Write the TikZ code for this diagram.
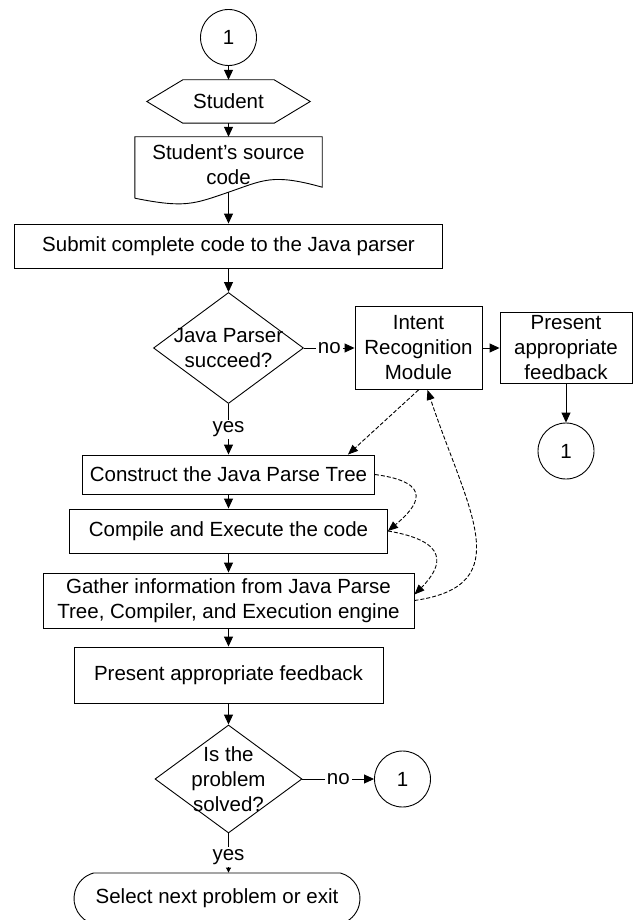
\documentclass[tikz,border=0pt]{standalone}
\usepackage{fontspec}
\setmainfont{Liberation Sans}
\usetikzlibrary{shapes.geometric,shapes.misc,arrows.meta}
\tikzstyle{block}=[
	draw=black,
	shape=rectangle,
	align=center,
	inner sep=2pt,
	line width=0.9pt
]
\tikzstyle{decision}=[draw=black, shape=diamond, align=center, inner sep=-20pt, line width=0.9pt]
\tikzstyle{conn}=[draw=black, shape=circle, minimum size=56pt, inner sep=0pt, line width=0.9pt]
\tikzstyle{outline}=[draw=none, align=center, inner sep=0pt]
\tikzstyle{lbl}=[fill=white, inner sep=2pt]
\tikzstyle{flow}=[line width=0.9pt, -{Triangle[length=10pt,width=9pt]}]
\tikzstyle{smallflow}=[line width=0.9pt, -{Triangle[length=5pt,width=5pt]}]
\tikzstyle{dflow}=[line width=0.9pt, dash pattern=on 4pt off 2pt, -{Triangle[length=10pt,width=8pt]}]

\begin{document}
\begin{tikzpicture}[x=1pt, y=-1pt, every node/.style={font=\fontsize{20.5}{25}\selectfont}]
	\useasboundingbox (0,0) rectangle (634,920);

	% main column
	\node[conn]	(top)	at (228.5,37.5)	{1};
	\node[outline, minimum width=163pt, minimum height=43pt]	(stud)	at (228.5,101.5)	{Student};
	\node[outline, minimum width=187pt, minimum height=55pt]	(src)	at (228.5,164.5)	{Student’s source\\code};
	\node[block, minimum width=428pt, minimum height=44pt]	(submit)	at (228.5,246)	{Submit complete code to the Java parser};
	\node[decision, minimum width=150pt, minimum height=111pt]	(parse)	at (228.5,348)	{Java Parser\\succeed?};
	\node[block, minimum width=292pt, minimum height=39pt]	(construct)	at (228.5,474.5)	{Construct the Java Parse Tree};
	\node[block, minimum width=318pt, minimum height=44pt]	(compile)	at (228.5,531)	{Compile and Execute the code};
	\node[block, minimum width=371pt, minimum height=55pt]	(gather)	at (228.5,600.5)	{Gather information from Java Parse\\Tree, Compiler, and Execution engine};
	\node[block, minimum width=309pt, minimum height=56pt]	(fb2)	at (228.5,675)	{Present appropriate feedback};
	\node[decision, minimum width=147pt, minimum height=108pt]	(solved)	at (228.5,779)	{Is the\\problem\\solved?};
	\node[draw=black, shape=rounded rectangle, rounded rectangle arc length=150, inner xsep=-22pt, minimum width=242pt, minimum height=51pt, line width=0.9pt]	(term)	at (217,898.5)	{Select next problem or exit};

	% right side
	\node[block, minimum width=127pt, minimum height=83pt]	(intent)	at (418.5,348)	{Intent\\Recognition\\Module};
	\node[block, minimum width=132pt, minimum height=71pt]	(fb1)	at (566,348)	{Present\\appropriate\\feedback};
	\node[conn]	(back1)	at (566,451)	{1};
	\node[conn]	(back2)	at (402.5,779)	{1};

	% shapes drawn round the plain nodes
	\draw[line width=0.9pt] (stud.west) -- ([xshift=36pt]stud.north west) -- ([xshift=-36pt]stud.north east) -- (stud.east) -- ([xshift=-36pt]stud.south east) -- ([xshift=36pt]stud.south west) -- cycle;
	\draw[line width=0.9pt] ([yshift=-6pt]src.south west) -- (src.north west) -- (src.north east) -- ([yshift=5pt]src.south east) .. controls +(-50,-14) and +(35,-12) .. (src.south) .. controls +(-35,12) and +(50,10) .. ([yshift=-6pt]src.south west);

	\path[flow]
	(top) edge (stud)
	(stud) edge (src)
	(src.south) edge (submit)
	(submit) edge (parse)
	(parse) edge node[lbl] {no} (intent)
	(parse) edge node[lbl] {yes} (construct)
	(intent) edge (fb1)
	(fb1) edge (back1)
	(construct) edge (compile)
	(compile) edge (gather)
	(gather) edge (fb2)
	(fb2) edge (solved)
	(solved) edge node[lbl] {no} (back2);

	\path[smallflow]
	(solved) edge node[lbl, pos=0.6] {yes} (solved.south |- term.north);

	% feedback loop through the intent module
	\draw[dflow] (intent.south) -- ([xshift=-27pt]construct.north east);
	\draw[dflow] (construct.east) .. controls +(60,8) and +(30,-25) .. (compile.east);
	\draw[dflow] (compile.east) .. controls +(60,10) and +(30,-30) .. ([yshift=6pt]gather.east);
	\draw[dflow] (gather.east) .. controls +(105,-15) and +(40,120) .. ([xshift=9pt]intent.south);

\end{tikzpicture}
\end{document}
